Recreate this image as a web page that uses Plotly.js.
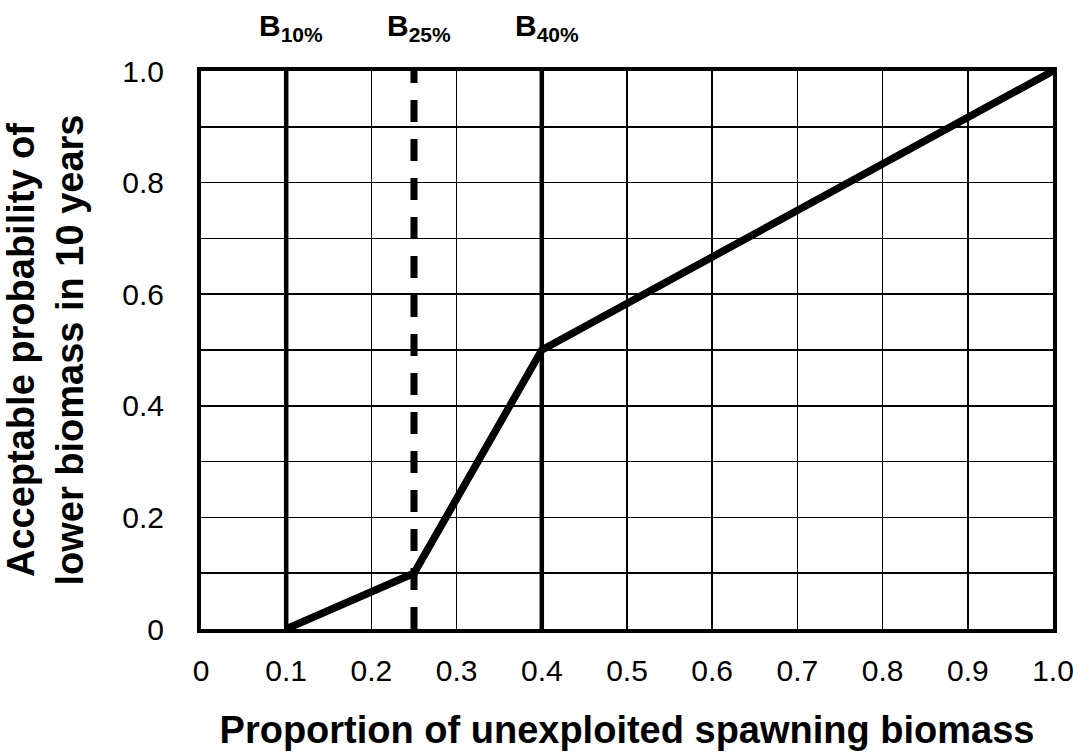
<!DOCTYPE html>
<html>
<head>
<meta charset="utf-8">
<script src="https://cdn.plot.ly/plotly-3.0.1.min.js"></script>
<style>
html, body { margin: 0; padding: 0; background: #ffffff; }
#chart { width: 1073px; height: 754px; }
</style>
</head>
<body>
<div id="chart"></div>
<script>
// Harvest control curve
const biomassX = [0.1, 0.25, 0.4, 1.0];
const probabilityY = [0, 0.1, 0.5, 1.0];

// Reference points
const refPoints = [0.1, 0.25, 0.4];
const refBase = ["B", "B", "B"];
const refSub = ["10%", "25%", "40%"];
const refDashed = [false, true, false];

// Axis ticks
const xTickVals = [0, 0.1, 0.2, 0.3, 0.4, 0.5, 0.6, 0.7, 0.8, 0.9, 1.0];
const xTickText = ["0", "0.1", "0.2", "0.3", "0.4", "0.5", "0.6", "0.7", "0.8", "0.9", "1.0"];
const yTickVals = [0, 0.2, 0.4, 0.6, 0.8, 1.0];
const yTickText = ["0", "0.2", "0.4", "0.6", "0.8", "1.0"];
const yMinorGrid = [0.1, 0.3, 0.5, 0.7, 0.9];

const FONT = "Liberation Sans, Arial, sans-serif";
const yRange = [0, 1];

const traces = [];
refPoints.forEach((v, i) => {
  traces.push({
    type: "scatter", mode: "lines",
    x: [v, v], y: yRange,
    line: refDashed[i]
      ? { color: "#000", width: 7, dash: "22px,17px" }
      : { color: "#000", width: 4.5 },
    hoverinfo: "skip", showlegend: false, cliponaxis: false
  });
});
traces.push({
  type: "scatter", mode: "lines",
  x: biomassX, y: probabilityY,
  line: { color: "#000", width: 7.5 },
  showlegend: false, cliponaxis: false
});

const annotations = refPoints.map((v, i) => ({
  x: v, xref: "x", y: 1.078, yref: "paper",
  text: refBase[i] + "<sub>" + refSub[i] + "</sub>",
  showarrow: false, xanchor: "center", yanchor: "middle", xshift: 5,
  font: { family: FONT, size: 30, color: "#000", weight: "bold" }
}));

const layout = {
  width: 1073, height: 754,
  margin: { l: 201, r: 20, t: 71, b: 125 },
  paper_bgcolor: "#fff", plot_bgcolor: "#fff",
  showlegend: false,
  font: { family: FONT, color: "#000" },
  xaxis: {
    range: [0, 1], tickmode: "array", tickvals: xTickVals, ticktext: xTickText,
    showgrid: true, gridcolor: "#000", gridwidth: 1.5,
    showline: true, linecolor: "#000", linewidth: 4, mirror: true,
    zeroline: false, ticks: "", ticklabelstandoff: 12, ticklabeloverflow: "allow",
    tickfont: { family: FONT, size: 30, color: "#000" },
    title: { text: "Proportion of unexploited spawning biomass", standoff: 31,
             font: { family: FONT, size: 38, color: "#000", weight: "bold" } }
  },
  yaxis: {
    range: [0, 1], tickmode: "array", tickvals: yTickVals, ticktext: yTickText,
    showgrid: true, gridcolor: "#000", gridwidth: 1.5,
    showline: true, linecolor: "#000", linewidth: 4, mirror: true,
    zeroline: false, ticks: "", ticklabelstandoff: 27,
    minor: { tickvals: yMinorGrid, showgrid: true, gridcolor: "#000", gridwidth: 1.5, ticks: "" },
    tickfont: { family: FONT, size: 30, color: "#000" },
    title: { text: "Acceptable probability of<br>lower biomass in 10 years", standoff: 30,
             font: { family: FONT, size: 38, color: "#000", weight: "bold" } }
  },
  annotations: annotations
};

Plotly.newPlot("chart", traces, layout, { displayModeBar: false, staticPlot: true });
</script>
</body>
</html>
